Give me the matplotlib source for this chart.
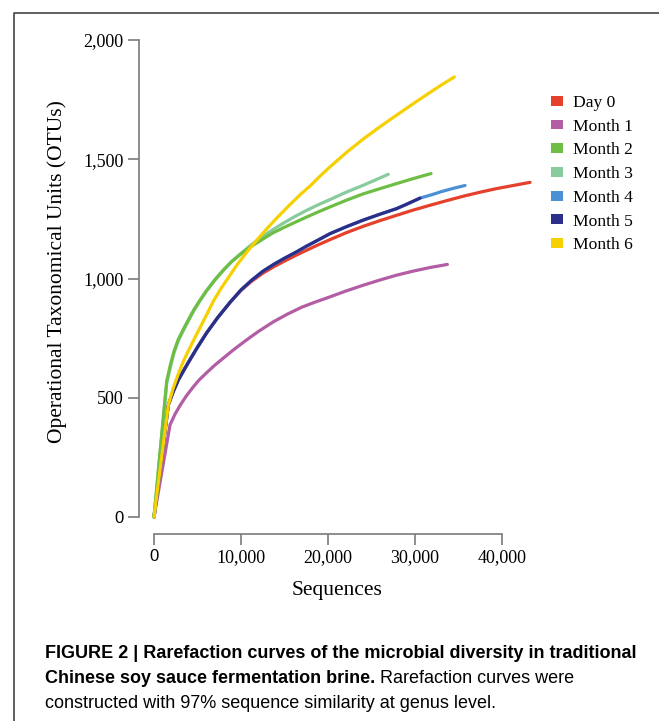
import matplotlib
matplotlib.use('Agg')
import matplotlib.pyplot as plt
from matplotlib.lines import Line2D
from matplotlib.patches import Patch

plt.rcParams['font.family'] = 'serif'
plt.rcParams['font.serif'] = ['Liberation Serif', 'DejaVu Serif']

# rarefaction curves (sequences, OTUs)
x_day0 = [0, 1650, 2200, 2800, 3500, 4140, 5000, 6050, 7300, 8740, 10000, 11200, 12500,
          13800, 15000, 16300, 17500, 18800, 20230, 22100, 24060, 26000, 27890, 29800,
          31720, 33600, 35550, 37500, 39380, 41300, 43220]
y_day0 = [0, 470, 525, 575, 620, 660, 712, 772, 835, 900, 950, 988, 1022,
          1050, 1073, 1097, 1118, 1140, 1163, 1192, 1219, 1243, 1265, 1287,
          1307, 1326, 1345, 1362, 1377, 1390, 1403]

x_m1 = [0, 1840, 2400, 3000, 3700, 4500, 5200, 6050, 7000, 8000, 9000, 10000, 11000, 12000,
        13700, 15300, 17000, 18600, 20230, 22100, 24060, 26000, 27890, 29800, 31720, 33720]
y_m1 = [0, 386, 430, 468, 507, 545, 575, 605, 637, 667, 697, 725, 752, 778,
        818, 850, 880, 902, 923, 948, 972, 994, 1014, 1031, 1046, 1059]

x_m2 = [0, 1460, 1900, 2300, 2800, 3330, 4000, 4600, 5300, 6050, 7000, 8000, 8900, 9890,
        11200, 12500, 13700, 15000, 16300, 17500, 18800, 20230, 22100, 24060, 26000, 27890,
        29900, 31840]
y_m2 = [0, 570, 640, 695, 745, 784, 830, 870, 910, 950, 995, 1037, 1070, 1100,
        1135, 1165, 1192, 1215, 1237, 1257, 1278, 1300, 1328, 1355, 1377, 1398,
        1420, 1440]

x_m3 = [0, 1460, 1900, 2300, 2800, 3330, 4000, 4600, 5300, 6050, 7000, 8000, 8900, 9890,
        11200, 12500, 13700, 15000, 16300, 17500, 18800, 20230, 22100, 24060, 25500, 26930]
y_m3 = [0, 560, 632, 688, 740, 779, 826, 866, 907, 948, 993, 1035, 1070, 1102,
        1142, 1177, 1206, 1235, 1262, 1285, 1308, 1331, 1362, 1391, 1414, 1437]

x_m4 = [0, 1650, 2200, 2800, 3500, 4140, 5000, 6050, 7300, 8740, 10000, 11200, 12500,
        13800, 15000, 16300, 17500, 18800, 20230, 22100, 24060, 26000, 27890, 29200,
        30570, 32000, 33000, 34400, 35750]
y_m4 = [0, 470, 525, 575, 620, 660, 712, 772, 835, 900, 952, 992, 1030,
        1060, 1085, 1110, 1135, 1160, 1188, 1217, 1245, 1270, 1293, 1314,
        1337, 1352, 1364, 1378, 1390]

x_m5 = [0, 1650, 2200, 2800, 3500, 4140, 5000, 6050, 7300, 8740, 10000, 11200, 12500,
        13800, 15000, 16300, 17500, 18800, 20230, 22100, 24060, 26000, 27890, 29200, 30570]
y_m5 = [0, 470, 525, 575, 620, 660, 712, 772, 835, 900, 952, 992, 1030,
        1060, 1085, 1110, 1135, 1160, 1188, 1217, 1245, 1270, 1293, 1314, 1337]

x_m6 = [0, 1650, 2200, 2800, 3400, 4060, 4700, 5400, 6100, 6820, 7700, 8700, 9600, 10650,
        11800, 13000, 14200, 15500, 16700, 18000, 19100, 20230, 22100, 24060, 26000, 27890,
        29800, 31720, 33100, 34520]
y_m6 = [0, 470, 540, 600, 655, 705, 752, 802, 852, 905, 958, 1012, 1060, 1110,
        1160, 1210, 1257, 1305, 1348, 1390, 1430, 1468, 1528, 1585, 1637, 1685,
        1733, 1780, 1813, 1845]

labels = ['Day 0', 'Month 1', 'Month 2', 'Month 3', 'Month 4', 'Month 5', 'Month 6']
colors = ['#E5402B', '#B25DA4', '#6DBE45', '#88CB9C', '#4B8FD5', '#2C2F8A', '#F6D000']

x_ticks = [0, 10000, 20000, 30000, 40000]
x_tick_labels = ['0', '10,000', '20,000', '30,000', '40,000']
y_ticks = [0, 500, 1000, 1500, 2000]
y_tick_labels = ['0', '500', '1,000', '1,500', '2,000']

fig = plt.figure(figsize=(6.59, 7.21), dpi=100)
ax = fig.add_axes([139 / 659, (721 - 517) / 721, 401 / 659, 477 / 721])

series = {
    'Day 0': (x_day0, y_day0), 'Month 1': (x_m1, y_m1), 'Month 2': (x_m2, y_m2),
    'Month 3': (x_m3, y_m3), 'Month 4': (x_m4, y_m4), 'Month 5': (x_m5, y_m5),
    'Month 6': (x_m6, y_m6),
}
draw_order = ['Month 1', 'Day 0', 'Month 4', 'Month 5', 'Month 3', 'Month 2', 'Month 6']
for name in draw_order:
    xs, ys = series[name]
    ax.plot(xs, ys, color=colors[labels.index(name)], lw=2.3, solid_capstyle='round',
            solid_joinstyle='round', clip_on=False)

ax.set_xlim(-1724, 44368)
ax.set_ylim(0, 2000)

spine_col = '#7a7a7a'
for s in ['top', 'right']:
    ax.spines[s].set_visible(False)
ax.spines['left'].set_color(spine_col)
ax.spines['bottom'].set_color(spine_col)
ax.spines['left'].set_linewidth(1.2)
ax.spines['bottom'].set_linewidth(1.2)
ax.spines['bottom'].set_position(('outward', 12.2))
ax.spines['bottom'].set_bounds(0, 40000)
ax.spines['left'].set_bounds(0, 2000)

ax.set_xticks(x_ticks, x_tick_labels)
ax.set_yticks(y_ticks, y_tick_labels)
ax.tick_params(axis='both', colors=spine_col, labelcolor='black', length=8, width=1.2,
               labelsize=13)
ax.tick_params(axis='y', pad=3)
ax.tick_params(axis='x', pad=3)
ax.get_xticklabels()[0].set_fontfamily('Liberation Sans')
ax.get_yticklabels()[0].set_fontfamily('Liberation Sans')
ax.get_xticklabels()[0].set_fontsize(12)
ax.get_yticklabels()[0].set_fontsize(12)

fig.text(57 / 659, 1 - 272 / 721, 'Operational Taxonomical Units (OTUs)', rotation=90,
         ha='center', va='center', fontsize=15.5)
fig.text(337 / 659, 1 - 590 / 721, 'Sequences', ha='center', va='center', fontsize=15.5)

handles = [Patch(facecolor=c, edgecolor='none') for c in colors]
fig.legend(handles, labels, loc='upper left', bbox_to_anchor=(551 / 659, 1 - 95 / 721),
           frameon=False, fontsize=12.6, handlelength=0.7, handleheight=0.5,
           handletextpad=0.55, labelspacing=0.44, borderpad=0, borderaxespad=0)

# figure frame (top and left edges)
fig.add_artist(Line2D([14 / 659, 14 / 659, 1], [0, 1 - 13 / 721, 1 - 13 / 721],
                      transform=fig.transFigure, color='#444444', lw=1.2))

# caption
cap_family = ['Liberation Sans']
cap_size = 13.0
x0 = 45 / 659
fig.text(x0, 1 - 658 / 721,
         'FIGURE 2 | Rarefaction curves of the microbial diversity in traditional',
         fontsize=cap_size, fontweight='bold', family=cap_family, va='baseline')
t_bold = fig.text(x0, 1 - 683 / 721, 'Chinese soy sauce fermentation brine.',
                  fontsize=cap_size, fontweight='bold', family=cap_family, va='baseline')
fig.canvas.draw()
bb = t_bold.get_window_extent(renderer=fig.canvas.get_renderer())
fig.text(bb.x1 / fig.bbox.width, 1 - 683 / 721, ' Rarefaction curves were',
         fontsize=cap_size, family=cap_family, va='baseline')
fig.text(x0, 1 - 708 / 721, 'constructed with 97% sequence similarity at genus level.',
         fontsize=cap_size, family=cap_family, va='baseline')

fig.savefig('out.png', dpi=100)
